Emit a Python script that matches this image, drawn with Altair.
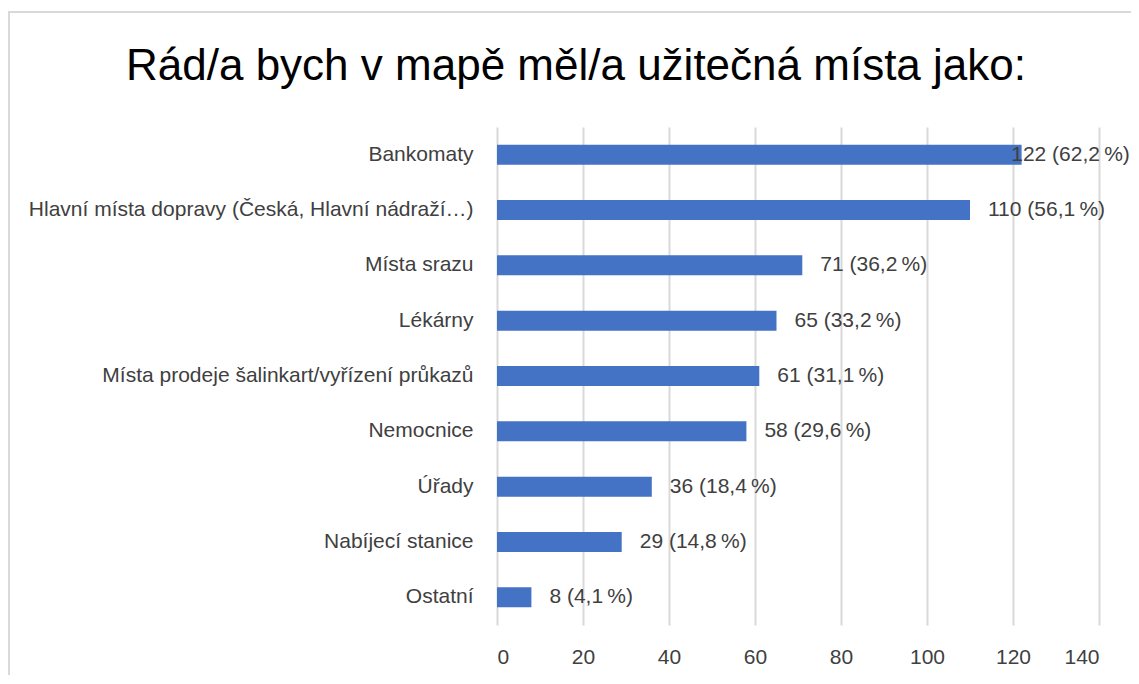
import altair as alt
import pandas as pd

title_text = ["Rád/a bych v mapě měl/a užitečná místa jako:"]
categories = [
    "Bankomaty",
    "Hlavní místa dopravy (Česká, Hlavní nádraží…)",
    "Místa srazu",
    "Lékárny",
    "Místa prodeje šalinkart/vyřízení průkazů",
    "Nemocnice",
    "Úřady",
    "Nabíjecí stanice",
    "Ostatní",
]
counts = [122, 110, 71, 65, 61, 58, 36, 29, 8]
percents = ["62,2", "56,1", "36,2", "33,2", "31,1", "29,6", "18,4", "14,8", "4,1"]

df = pd.DataFrame({
    "kategorie": categories,
    "pocet": counts,
    "label": [f"{c} ({p}\u2009%)" for c, p in zip(counts, percents)],
})

FONT = "Liberation Sans"
TXT = "#404040"
FS = 21

base = alt.Chart(df)

bars = base.mark_bar(color="#4472C4").encode(
    x=alt.X("pocet:Q", scale=alt.Scale(domain=[0, 140]),
            axis=alt.Axis(values=[0, 20, 40, 60, 80, 100, 120, 140], title=None,
                          grid=True, gridColor="#d9d9d9", gridWidth=2, domain=False,
                          ticks=False, labelFontSize=FS, labelColor=TXT, labelFont=FONT,
                          labelPadding=21)),
    y=alt.Y("kategorie:N", sort=categories,
            scale=alt.Scale(paddingInner=0.64, paddingOuter=0.32),
            axis=alt.Axis(title=None, domain=False, ticks=False, labelFontSize=FS,
                          labelColor=TXT, labelFont=FONT, labelPadding=24,
                          labelLimit=600)),
)

labels = base.transform_calculate(
    lx="min(datum.pocet, 115.4)"
).mark_text(align="left", baseline="middle", dx=18, fontSize=FS, font=FONT,
            color=TXT).encode(
    x="lx:Q",
    y=alt.Y("kategorie:N", sort=categories),
    text="label:N",
)

border = alt.Chart(pd.DataFrame({"a": [0]})).mark_rect(
    fill=None, stroke="#d9d9d9", strokeWidth=2
).encode(
    x=alt.value(-488), x2=alt.value(700), y=alt.value(-115), y2=alt.value(600)
)

title = alt.Chart(pd.DataFrame({"t": title_text})).mark_text(
    align="center", baseline="alphabetic", fontSize=44, font=FONT, color="#000000"
).encode(
    x=alt.value(79), y=alt.value(-47), text="t:N"
)

chart = alt.layer(border, bars, labels, title).properties(
    width=602,
    height=498,
    padding={"left": 489, "top": 119, "right": 32, "bottom": 50},
    autosize=alt.AutoSizeParams(type="none"),
).configure_view(stroke=None)

chart.save("out.html", embed_options={"renderer": "svg", "actions": False})
